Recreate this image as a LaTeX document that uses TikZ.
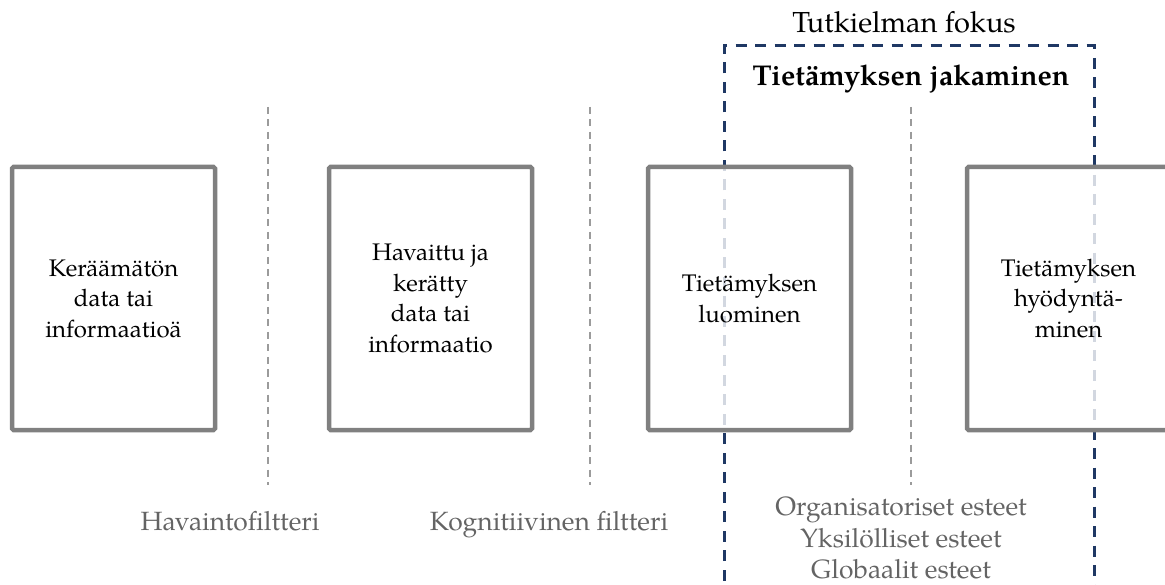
\documentclass[tikz,border=0pt]{standalone}
\usepackage{fontspec}
\setmainfont{TeX Gyre Pagella}
\definecolor{boxgray}{RGB}{128,128,128}
\definecolor{linegray}{RGB}{155,155,155}
\definecolor{labelgray}{RGB}{100,100,100}
\definecolor{focusnavy}{RGB}{31,56,100}
\begin{document}
\begin{tikzpicture}[x=1pt,y=-1pt,
  stagebox/.style={draw=boxgray, line width=4.5pt, fill=white, fill opacity=0.8,
    text opacity=1, rounded corners=1.5pt, minimum width=203pt, minimum height=263pt,
    inner sep=0pt, align=center, text=black, font=\fontsize{24}{30.5}\selectfont},
  filterline/.style={draw=linegray, line width=1.5pt, dash pattern=on 7pt off 5.5pt},
  focusframe/.style={draw=focusnavy, line width=3pt, dash pattern=on 11pt off 8.5pt},
  filterlabel/.style={anchor=base, text=labelgray, inner sep=0pt, font=\fontsize{26.4}{30}\selectfont},
  toplabel/.style={anchor=base, text=black, inner sep=0pt, font=\fontsize{28}{30}\selectfont}]
\useasboundingbox (0,0) rectangle (1165,585);
\clip (0,0) rectangle (1165,585);

% focus frame, open at the bottom
\coordinate (fbl) at (724,600);
\coordinate (ftl) at (724,46);
\coordinate (ftr) at (1094,46);
\coordinate (fbr) at (1094,600);
\draw[focusframe] (fbl) -- (ftl) -- (ftr) -- (fbr);

% filter boundaries
\foreach \n/\x in {f1/268, f2/590, f3/911} {
  \coordinate (\n top) at (\x,107);
  \coordinate (\n bot) at (\x,485);
  \draw[filterline] (\n top) -- (\n bot);
}

% stages
\node[stagebox] (s1) at (113.5,298.5) {Keräämätön\\data tai\\informaatioä};
\node[stagebox] (s2) at (430.5,298.5) {Havaittu ja\\kerätty\\data tai\\informaatio};
\node[stagebox] (s3) at (749.5,298.5) {Tietämyksen\\luominen};
\node[stagebox] (s4) at (1068.5,298.5) {Tietämyksen\\hyödyntä-\\minen};

% headings
\node[toplabel, font=\fontsize{29}{30}\selectfont] (focus) at (904,33) {Tutkielman fokus};
\node[toplabel, font=\fontsize{28.6}{30}\selectfont\bfseries] (share) at (911,86) {Tietämyksen jakaminen};

% filter labels
\node[filterlabel] (l1) at (230,530) {Havaintofiltteri};
\node[filterlabel] (l2) at (549,530) {Kognitiivinen filtteri};
\node[filterlabel] (b1) at (901,515) {Organisatoriset esteet};
\node[filterlabel] (b2) at (901,547) {Yksilölliset esteet};
\node[filterlabel] (b3) at (901,578) {Globaalit esteet};
\end{tikzpicture}
\end{document}
